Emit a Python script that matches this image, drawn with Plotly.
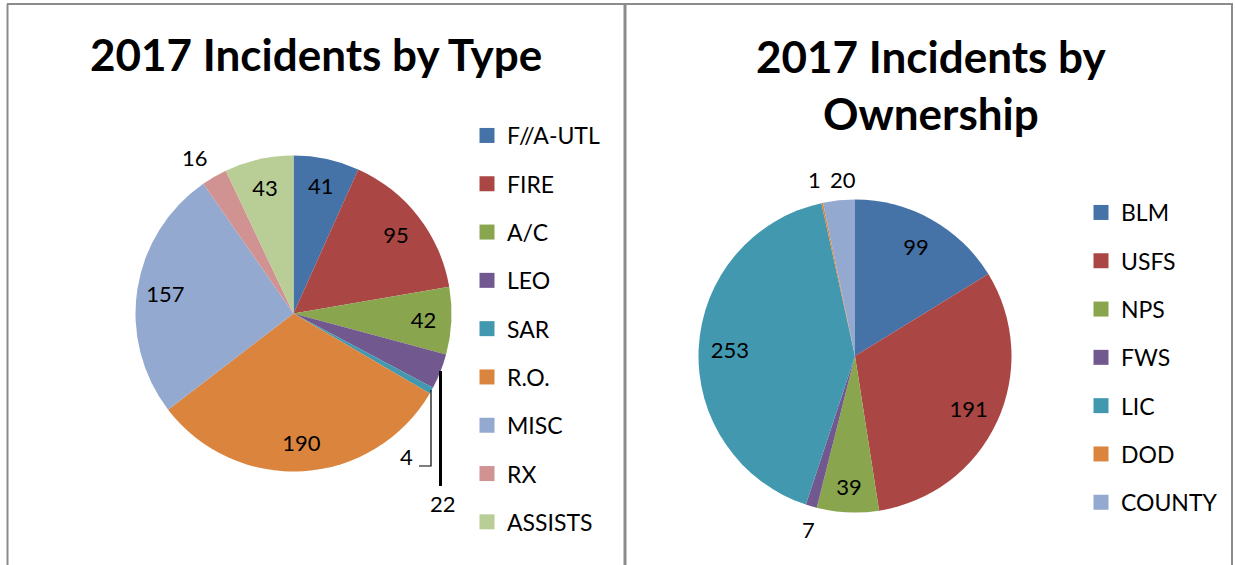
import plotly.graph_objects as go

W, H = 1235, 565

# ---------------- data ----------------
type_labels = ["F//A-UTL", "FIRE", "A/C", "LEO", "SAR", "R.O.", "MISC", "RX", "ASSISTS"]
type_values = [41, 95, 42, 22, 4, 190, 157, 16, 43]
type_colors = ["#4572A7", "#AA4643", "#89A54E", "#71588F", "#4198AF",
               "#DB843D", "#93A9CF", "#D19392", "#B9CD96"]
type_textpos = ["inside", "inside", "inside", "none", "none",
                "inside", "inside", "none", "inside"]

own_labels = ["BLM", "USFS", "NPS", "FWS", "LIC", "DOD", "COUNTY"]
own_values = [99, 191, 39, 7, 253, 1, 20]
own_colors = ["#4572A7", "#AA4643", "#89A54E", "#71588F", "#4198AF", "#DB843D", "#93A9CF"]
own_textpos = ["inside", "inside", "inside", "none", "inside", "none", "none"]

title_left = "2017 Incidents by Type"
title_right = "2017 Incidents by<br>Ownership"

FONT = "Lato"


def px(x):
    return x / W


def py(y):
    return 1 - y / H


def dom(cx, cy, r):
    return dict(x=[px(cx - r), px(cx + r)], y=[py(cy + r), py(cy - r)])


left_dom = dom(293.5, 313.5, 158)
right_dom = dom(855, 356, 156.5)

fig = go.Figure()

# visible pies
for labels, values, colors, d in [(type_labels, type_values, type_colors, left_dom),
                                   (own_labels, own_values, own_colors, right_dom)]:
    fig.add_trace(go.Pie(labels=labels, values=values, sort=False, direction="clockwise",
                         rotation=0, marker=dict(colors=colors, line=dict(width=0)),
                         textinfo="none", domain=d, showlegend=False, hoverinfo="label+value"))

# text-only pies (hole sets label radius like the original)
for labels, values, tp, d, hole in [(type_labels, type_values, type_textpos, left_dom, 0.64),
                                     (own_labels, own_values, own_textpos, right_dom, 0.6)]:
    fig.add_trace(go.Pie(labels=labels, values=values, sort=False, direction="clockwise",
                         rotation=0, hole=hole,
                         marker=dict(colors=["rgba(0,0,0,0)"] * len(values), line=dict(width=0)),
                         textinfo="value", textposition=tp, insidetextorientation="horizontal",
                         textfont=dict(family=FONT, size=22, color="black"),
                         domain=d, showlegend=False, hoverinfo="skip"))

# legend entries
for labels, colors, leg in [(type_labels, type_colors, "legend"), (own_labels, own_colors, "legend2")]:
    for lab, col in zip(labels, colors):
        fig.add_trace(go.Scatter(x=[None], y=[None], mode="markers", name=lab,
                                 legendgroup=leg + lab, legend=leg,
                                 marker=dict(symbol="square", size=15, color=col)))

shapes = []
border = "#8C8C8C"
shapes.append(dict(type="line", xref="paper", yref="paper", x0=px(7.5), x1=px(7.5), y0=0, y1=py(4),
                   line=dict(color=border, width=2)))
shapes.append(dict(type="line", xref="paper", yref="paper", x0=px(7), x1=px(1233), y0=py(4), y1=py(4),
                   line=dict(color=border, width=2)))
shapes.append(dict(type="line", xref="paper", yref="paper", x0=px(625), x1=px(625), y0=0, y1=py(4),
                   line=dict(color=border, width=3)))
shapes.append(dict(type="line", xref="paper", yref="paper", x0=px(1232), x1=px(1232), y0=0, y1=py(4),
                   line=dict(color=border, width=2)))
# leader lines for small slices
shapes.append(dict(type="line", xref="paper", yref="paper", x0=px(440.5), x1=px(440.5),
                   y0=py(371), y1=py(486), line=dict(color="black", width=3)))
shapes.append(dict(type="path", xref="paper", yref="paper",
                   path=f"M {px(431)} {py(390)} L {px(431)} {py(466)} L {px(419)} {py(466)}",
                   line=dict(color="black", width=1.2)))


def label_ann(value, x, y):
    return dict(text=str(value), x=px(x), y=py(y), xref="paper", yref="paper", showarrow=False,
                xanchor="center", yanchor="middle", font=dict(family=FONT, size=22, color="black"))


annotations = [
    dict(text=title_left, x=px(316), y=py(54), xref="paper", yref="paper", showarrow=False,
         xanchor="center", yanchor="middle", font=dict(family=FONT, size=44, color="black", weight="bold")),
    dict(text=title_right, x=px(931), y=py(84), xref="paper", yref="paper", showarrow=False,
         xanchor="center", yanchor="middle", font=dict(family=FONT, size=44, color="black", weight="bold")),
    label_ann(type_values[3], 443, 503),
    label_ann(type_values[4], 406, 457),
    label_ann(type_values[7], 195, 157),
    label_ann(own_values[3], 808, 529),
    label_ann(own_values[5], 814, 179),
    label_ann(own_values[6], 843, 179),
]

legend_common = dict(font=dict(family=FONT, size=23, color="black"), tracegroupgap=15.4,
                     bgcolor="rgba(0,0,0,0)", xanchor="left", yanchor="top", itemclick=False)

fig.update_layout(
    width=W, height=H, margin=dict(l=0, r=0, t=0, b=0),
    paper_bgcolor="white", plot_bgcolor="white",
    xaxis=dict(visible=False), yaxis=dict(visible=False),
    shapes=shapes, annotations=annotations,
    legend=dict(x=px(467), y=py(114), **legend_common),
    legend2=dict(x=px(1081), y=py(191), **legend_common),
    font=dict(family=FONT),
)

fig.write_html("out.html", config={"displayModeBar": False},
               post_script="document.body.style.margin='0';document.body.style.overflow='hidden';")
